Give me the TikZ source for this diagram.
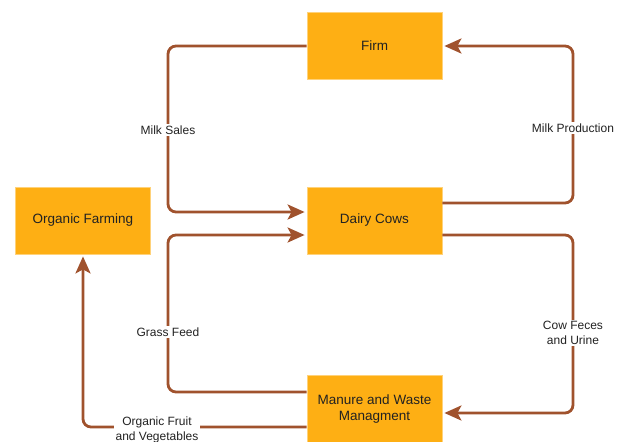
\documentclass[tikz,border=0pt]{standalone}
\usepackage{fontspec}
\setmainfont{Liberation Sans}
\usetikzlibrary{arrows.meta}
\definecolor{boxfill}{HTML}{FEAF14}
\definecolor{boxedge}{HTML}{FFD27A}
\definecolor{flowc}{HTML}{A0522D}
\definecolor{txt}{HTML}{222222}
\tikzset{
  box/.style={draw=boxedge, fill=boxfill, minimum width=135pt, minimum height=67pt, inner sep=0pt,
    font=\fontsize{13.5}{15.5}\selectfont, align=center, line width=0.8pt, text=txt},
  flow/.style={draw=flowc, line width=2.8pt, rounded corners=8pt, shorten >=2pt,
    -{Stealth[length=17pt,width=15pt,inset=4pt]}},
  lbl/.style={fill=white, inner sep=1.5pt, font=\fontsize{12}{15}\selectfont, align=center, text=txt}
}
\begin{document}
\begin{tikzpicture}[x=1pt,y=-1pt]
\useasboundingbox (0,0) rectangle (627,442);
\node[box] (firm) at (374.5,46) {Firm};
\node[box] (dairy) at (374.5,220.5) {Dairy Cows};
\node[box] (organic) at (83,220.5) {Organic Farming};
\node[box] (manure) at (374.5,409) {Manure and Waste\\Managment};

\coordinate (msA) at (168,46);
\coordinate (msB) at (168,212);
\draw[flow] (firm.west) -- (msA) -- (msB) -- ([yshift=8.5pt]dairy.west);

\coordinate (mpA) at (573,203);
\coordinate (mpB) at (573,46);
\draw[flow] ([yshift=17.5pt]dairy.east) -- (mpA) -- (mpB) -- (firm.east);

\coordinate (gfA) at (168,392);
\coordinate (gfB) at (168,235);
\draw[flow] ([yshift=17pt]manure.west) -- (gfA) -- (gfB) -- ([yshift=-14.5pt]dairy.west);

\coordinate (cfA) at (573,235);
\coordinate (cfB) at (573,413);
\draw[flow] ([yshift=-14.5pt]dairy.east) -- (cfA) -- (cfB) -- ([yshift=-4pt]manure.east);

\coordinate (ofA) at (83,427);
\draw[flow] ([yshift=-18pt]manure.west) -- (ofA) -- (organic.south);

\node[lbl] (l1) at (168,130) {Milk Sales};
\node[lbl] (l2) at (573,128) {Milk Production};
\node[lbl] (l3) at (168,332) {Grass Feed};
\node[lbl] (l4) at (573,333) {Cow Feces\\and Urine};
\node[lbl] (l5) at (157,430) {Organic Fruit\\and Vegetables};
\end{tikzpicture}
\end{document}
